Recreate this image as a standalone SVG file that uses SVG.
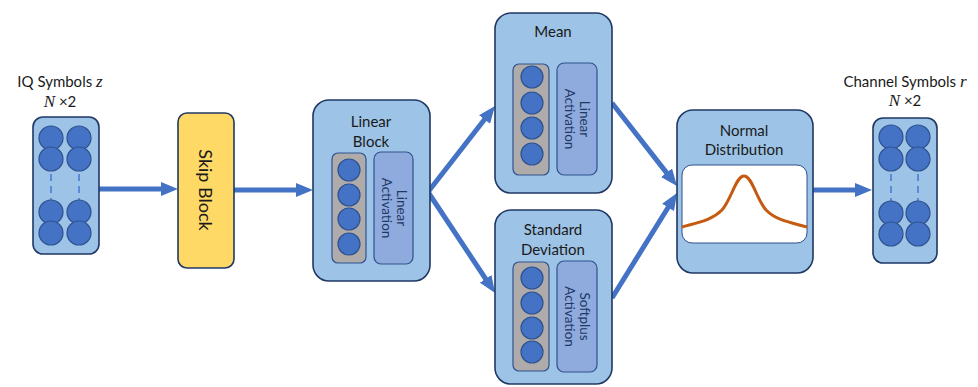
<svg xmlns="http://www.w3.org/2000/svg" width="978" height="387" viewBox="0 0 978 387">
<defs>
<style>
.box{fill:#9DC3E6;stroke:#1F3864;stroke-width:1.6}
.skip{fill:#FFD966;stroke:#1F3864;stroke-width:1.6}
.gray{fill:#AFABAB;stroke:#2F528F;stroke-width:1.2}
.act{fill:#8FAADC;stroke:#2F528F;stroke-width:1.2}
.dot{fill:#4472C4;stroke:#2F528F;stroke-width:1.2}
.dash{stroke:#5B8BD6;stroke-width:2;stroke-dasharray:7 5}
.t{font-family:Lato,"Open Sans","Liberation Sans",sans-serif;font-size:15px;fill:#1a1a1a;text-anchor:middle}
.ta{font-family:Lato,"Open Sans","Liberation Sans",sans-serif;font-size:13.5px;fill:#203864;text-anchor:middle}
.m{font-family:"Liberation Serif",serif;font-style:italic;font-size:17px}
.arr{stroke:#4472C4;stroke-width:5;fill:none;marker-end:url(#ah)}
</style>
<marker id="ah" viewBox="0 0 17 14" refX="5" refY="7" markerWidth="17" markerHeight="14" markerUnits="userSpaceOnUse" orient="auto">
<path d="M0,0 L17,7 L0,14 z" fill="#4472C4"/>
</marker>
</defs>

<g id="connectors">
<line class="arr" x1="99" y1="189" x2="166" y2="189"/>
<line class="arr" x1="234" y1="190" x2="301" y2="190"/>
<line class="arr" x1="428" y1="192" x2="487.6" y2="115.5"/>
<line class="arr" x1="428" y1="192" x2="488.4" y2="283"/>
<line class="arr" x1="612" y1="103" x2="669.6" y2="176.6"/>
<line class="arr" x1="612" y1="298" x2="670.7" y2="203.2"/>
<line class="arr" x1="813" y1="190" x2="860" y2="190"/>
</g>

<g id="input">
<text class="t" x="60" y="87">IQ Symbols <tspan class="m">z</tspan></text>
<text class="t" x="60" y="107"><tspan class="m">N</tspan> ×2</text>
<rect class="box" x="33" y="117" width="66" height="137" rx="10"/>
<circle class="dot" cx="51" cy="138" r="12"/><circle class="dot" cx="79" cy="138" r="12"/>
<circle class="dot" cx="51" cy="159" r="12"/><circle class="dot" cx="79" cy="159" r="12"/>
<line class="dash" x1="51" y1="174" x2="51" y2="200"/><line class="dash" x1="79" y1="174" x2="79" y2="200"/>
<circle class="dot" cx="51" cy="212" r="12"/><circle class="dot" cx="79" cy="212" r="12"/>
<circle class="dot" cx="51" cy="233" r="12"/><circle class="dot" cx="79" cy="233" r="12"/>
</g>

<g id="skip">
<rect class="skip" x="178" y="113" width="56" height="155" rx="9"/>
<text class="t" style="font-size:18px" transform="translate(205,190) rotate(90)" y="6">Skip Block</text>
</g>

<g id="linear">
<rect class="box" x="313" y="100" width="117" height="181" rx="16"/>
<text class="t" x="371" y="127">Linear</text>
<text class="t" x="371" y="147">Block</text>
<rect class="gray" x="332" y="153" width="34" height="110" rx="6"/>
<circle class="dot" cx="349" cy="170" r="11"/>
<circle class="dot" cx="349" cy="195" r="11"/>
<circle class="dot" cx="349" cy="219" r="11"/>
<circle class="dot" cx="349" cy="244" r="11"/>
<rect class="act" x="374" y="152" width="39" height="112" rx="7"/>
<text class="ta" transform="translate(393.5,208) rotate(90)"><tspan x="0" y="-3">Linear</tspan><tspan x="0" y="12">Activation</tspan></text>
</g>

<g id="mean">
<rect class="box" x="495" y="13" width="117" height="180" rx="16"/>
<text class="t" x="553" y="37">Mean</text>
<rect class="gray" x="513" y="64" width="36" height="111" rx="6"/>
<circle class="dot" cx="532" cy="77" r="11"/>
<circle class="dot" cx="532" cy="103" r="11"/>
<circle class="dot" cx="532" cy="128" r="11"/>
<circle class="dot" cx="532" cy="154" r="11"/>
<rect class="act" x="557" y="63" width="40" height="112" rx="7"/>
<text class="ta" transform="translate(577,119) rotate(90)"><tspan x="0" y="-3">Linear</tspan><tspan x="0" y="12">Activation</tspan></text>
</g>

<g id="std">
<rect class="box" x="495" y="210" width="117" height="174" rx="16"/>
<text class="t" x="553" y="235">Standard</text>
<text class="t" x="553" y="255">Deviation</text>
<rect class="gray" x="513" y="262" width="36" height="109" rx="6"/>
<circle class="dot" cx="532" cy="278" r="11"/>
<circle class="dot" cx="532" cy="303" r="11"/>
<circle class="dot" cx="532" cy="328" r="11"/>
<circle class="dot" cx="532" cy="352" r="11"/>
<rect class="act" x="557" y="261" width="40" height="111" rx="7"/>
<text class="ta" transform="translate(577,316.5) rotate(90)"><tspan x="0" y="-3">Softplus</tspan><tspan x="0" y="12">Activation</tspan></text>
</g>

<g id="normal">
<rect class="box" x="677" y="110" width="136" height="163" rx="16"/>
<text class="t" x="744" y="136">Normal</text>
<text class="t" x="744" y="155">Distribution</text>
<rect x="682" y="165" width="125" height="78" rx="10" fill="#ffffff" stroke="#2F528F" stroke-width="1"/>
<path d="M682,227 C700,222 712,220 722,210 C732,198 736,176 744,176 C752,176 756,198 766,210 C776,220 788,222 807,227" fill="none" stroke="#C55A11" stroke-width="3"/>
</g>

<g id="output">
<text class="t" x="905" y="87">Channel Symbols <tspan class="m">r</tspan></text>
<text class="t" x="905" y="106"><tspan class="m">N</tspan> ×2</text>
<rect class="box" x="873" y="118" width="64" height="145" rx="10"/>
<circle class="dot" cx="891" cy="137" r="12"/><circle class="dot" cx="918" cy="137" r="12"/>
<circle class="dot" cx="891" cy="159" r="12"/><circle class="dot" cx="918" cy="159" r="12"/>
<line class="dash" x1="891" y1="174" x2="891" y2="201"/><line class="dash" x1="918" y1="174" x2="918" y2="201"/>
<circle class="dot" cx="891" cy="213" r="12"/><circle class="dot" cx="918" cy="213" r="12"/>
<circle class="dot" cx="891" cy="234" r="12"/><circle class="dot" cx="918" cy="234" r="12"/>
</g>
</svg>
